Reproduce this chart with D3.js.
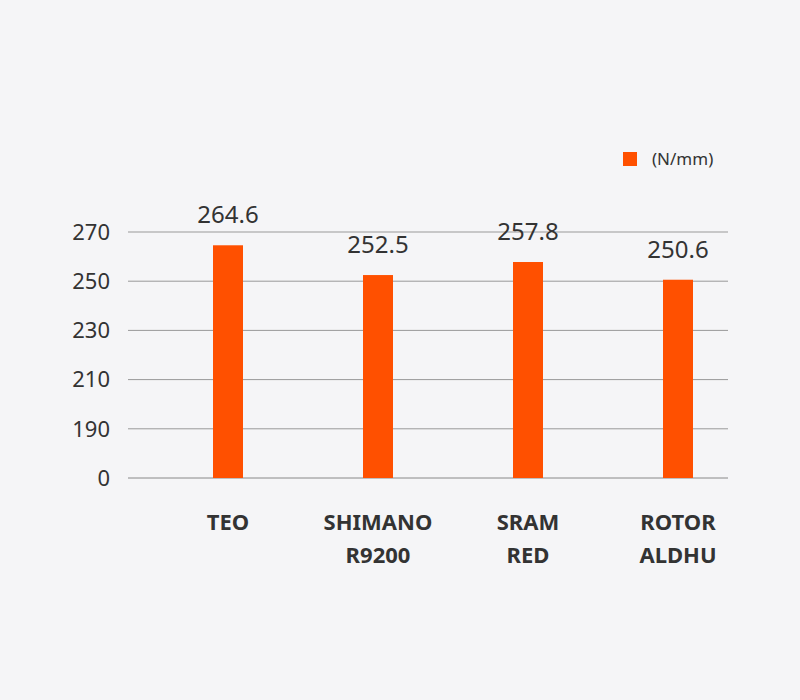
<!DOCTYPE html>
<html><head><meta charset="utf-8">
<script src="https://cdn.jsdelivr.net/npm/d3@7/dist/d3.min.js"></script>
<style>body{margin:0;background:#f5f5f7}</style></head>
<body><svg id="c" width="800" height="700"></svg>
<script>
const categories = [["TEO"],["SHIMANO","R9200"],["SRAM","RED"],["ROTOR","ALDHU"]];
const values = [264.6, 252.5, 257.8, 250.6];
const tickValues = [0,190,210,230,250,270];
const seriesName = "(N/mm)";

const svg = d3.select("#c");
svg.append("rect").attr("width",800).attr("height",700).attr("fill","#f5f5f7");
const font = "Noto Sans, sans-serif";
const y = d3.scaleLinear().domain(tickValues).range(tickValues.map((d,i)=>478-i*49.2));
const x = d3.scaleBand().domain(d3.range(values.length)).range([153,753]).paddingInner(0.8).paddingOuter(0.4);

const g = svg.append("g");
tickValues.forEach(t=>{
  g.append("line").attr("x1",128).attr("x2",728).attr("y1",y(t)).attr("y2",y(t))
   .attr("stroke", t===0?"#888":"#999").attr("stroke-width",1);
  g.append("text").attr("x",110).attr("y",y(t)).attr("dy","0.35em").attr("text-anchor","end")
   .attr("font-family",font).attr("font-size",22).attr("fill","#333").text(t);
});
const bw = 30;
values.forEach((v,i)=>{
  const cx = x(i)+x.bandwidth()/2;
  g.append("rect").attr("x",cx-bw/2).attr("width",bw).attr("y",y(v)).attr("height",y(0)-y(v)).attr("fill","#ff5000");
  g.append("text").attr("x",cx).attr("y",y(v)-22).attr("text-anchor","middle")
   .attr("font-family",font).attr("font-size",24).attr("fill","#333").text(v.toFixed(1));
  categories[i].forEach((l,j)=>{
    g.append("text").attr("x",cx).attr("y",530+j*33).attr("text-anchor","middle")
     .attr("font-family",font).attr("font-weight","bold").attr("font-size",22).attr("fill","#333").text(l);
  });
});
svg.append("rect").attr("x",623).attr("y",152).attr("width",14).attr("height",14).attr("fill","#ff5000");
svg.append("text").attr("x",652).attr("y",159).attr("dy","0.35em").attr("font-family",font)
  .attr("font-size",17).attr("fill","#333").text(seriesName);
</script></body></html>
